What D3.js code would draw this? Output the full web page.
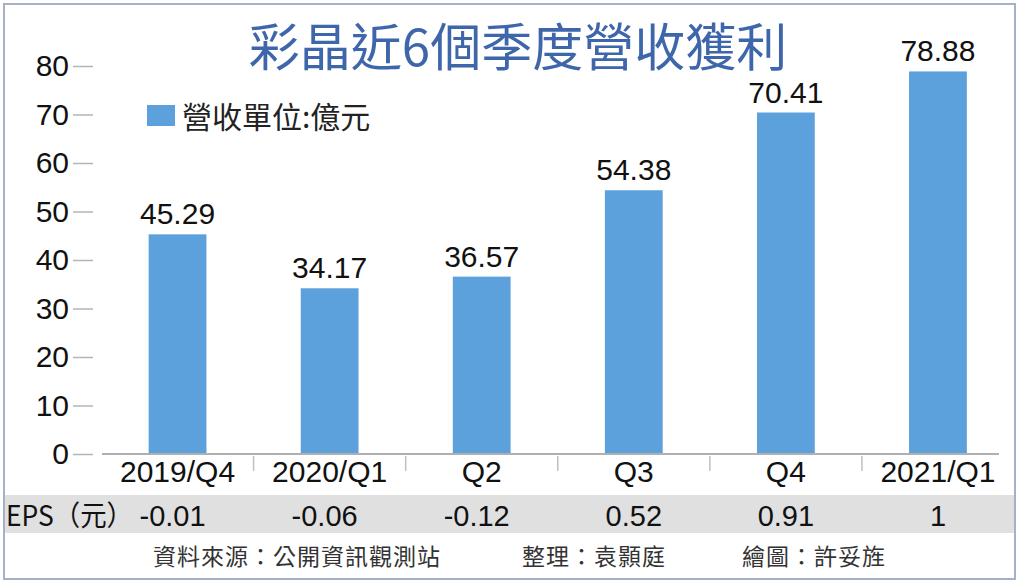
<!DOCTYPE html>
<html>
<head>
<meta charset="utf-8">
<script src="https://cdn.jsdelivr.net/npm/d3@7"></script>
<style>
  body { margin: 0; background: #fff; }
  svg { display: block; }
</style>
</head>
<body>
<div id="chart"></div>
<script>
// data
var quarters = [ '2019/Q4', '2020/Q1', 'Q2', 'Q3', 'Q4', '2021/Q1' ];
var revenue = [ 45.29, 34.17, 36.57, 54.38, 70.41, 78.88 ];
var eps = [ '-0.01', '-0.06', '-0.12', '0.52', '0.91', '1' ];
var yTicks = [ 0, 10, 20, 30, 40, 50, 60, 70, 80 ];

var W = 1024, H = 587;
var numFont = '"Liberation Sans", Arial, sans-serif';
var cjkFont = '"Noto Sans CJK TC", "Noto Sans CJK SC", sans-serif';
var barColor = '#5ca0dc';

var svg = d3.select( '#chart' ).append( 'svg' )
	.attr( 'width', W )
	.attr( 'height', H );

svg.append( 'rect' )
	.attr( 'width', W ).attr( 'height', H )
	.attr( 'fill', '#fff' );

// EPS band
svg.append( 'rect' )
	.attr( 'x', 4 ).attr( 'y', 495 )
	.attr( 'width', 1011 ).attr( 'height', 38 )
	.attr( 'fill', '#e0e0e0' );

// outer frame
svg.append( 'rect' )
	.attr( 'x', 4 ).attr( 'y', 4 )
	.attr( 'width', 1011 ).attr( 'height', 575 )
	.attr( 'fill', 'none' )
	.attr( 'stroke', '#a3b2c8' )
	.attr( 'stroke-width', 2 );

// scales
var xScale = d3.scaleBand()
	.domain( quarters )
	.range( [ 101.5, 1014 ] )
	.paddingInner( 0.62 )
	.paddingOuter( 0.31 );

var yScale = d3.scaleLinear()
	.domain( [ 0, 80 ] )
	.range( [ 454, 66 ] );

var half = ( xScale.step() - xScale.bandwidth() ) / 2;

// y axis
var yAxis = d3.axisLeft( yScale )
	.tickValues( yTicks )
	.tickSize( 20 )
	.tickPadding( 4 );

var yG = svg.append( 'g' )
	.attr( 'transform', 'translate(93,0)' )
	.call( yAxis );
yG.select( '.domain' ).remove();
yG.selectAll( '.tick line' )
	.attr( 'stroke', '#b4b4b4' )
	.attr( 'stroke-width', 1.5 );
yG.selectAll( '.tick text' )
	.attr( 'font-family', numFont )
	.attr( 'font-size', '30px' )
	.attr( 'fill', '#111' );

// bars
svg.selectAll( '.bars' )
	.data( revenue )
	.enter()
	.append( 'rect' )
	.attr( 'class', 'bars' )
	.attr( 'x', function( d, i ) { return xScale( quarters[ i ] ); } )
	.attr( 'y', function( d ) { return yScale( d ); } )
	.attr( 'width', xScale.bandwidth() )
	.attr( 'height', function( d ) { return yScale( 0 ) - yScale( d ); } )
	.attr( 'fill', barColor );

// baseline
svg.append( 'line' )
	.attr( 'x1', 102 ).attr( 'x2', 999 )
	.attr( 'y1', yScale( 0 ) ).attr( 'y2', yScale( 0 ) )
	.attr( 'stroke', '#b0b0b0' )
	.attr( 'stroke-width', 2 );

// category separators
svg.selectAll( '.sep' )
	.data( quarters.slice( 1 ) )
	.enter()
	.append( 'line' )
	.attr( 'class', 'sep' )
	.attr( 'x1', function( d ) { return xScale( d ) - half; } )
	.attr( 'x2', function( d ) { return xScale( d ) - half; } )
	.attr( 'y1', 456 ).attr( 'y2', 471 )
	.attr( 'stroke', '#c0c0c0' )
	.attr( 'stroke-width', 1.5 );

// value labels
svg.selectAll( '.val' )
	.data( revenue )
	.enter()
	.append( 'text' )
	.attr( 'class', 'val' )
	.attr( 'x', function( d, i ) { return xScale( quarters[ i ] ) + xScale.bandwidth() / 2; } )
	.attr( 'y', function( d ) { return yScale( d ) - 10; } )
	.attr( 'text-anchor', 'middle' )
	.attr( 'font-family', numFont )
	.attr( 'font-size', '30px' )
	.attr( 'fill', '#111' )
	.text( function( d ) { return d.toFixed( 2 ); } );

// x labels
svg.selectAll( '.xlab' )
	.data( quarters )
	.enter()
	.append( 'text' )
	.attr( 'class', 'xlab' )
	.attr( 'x', function( d ) { return xScale( d ) + xScale.bandwidth() / 2; } )
	.attr( 'y', 482 )
	.attr( 'text-anchor', 'middle' )
	.attr( 'font-family', numFont )
	.attr( 'font-size', '30px' )
	.attr( 'fill', '#111' )
	.text( function( d ) { return d; } );

// EPS row
svg.append( 'text' )
	.attr( 'x', 6 ).attr( 'y', 526 )
	.attr( 'font-family', cjkFont )
	.attr( 'font-size', '28px' )
	.attr( 'fill', '#111' )
	.attr( 'textLength', 127 )
	.attr( 'lengthAdjust', 'spacingAndGlyphs' )
	.text( 'EPS（元）' );

svg.selectAll( '.eps' )
	.data( eps )
	.enter()
	.append( 'text' )
	.attr( 'class', 'eps' )
	.attr( 'x', function( d, i ) { return xScale( quarters[ i ] ) + xScale.bandwidth() / 2 - ( d.charAt( 0 ) == '-' ? 5 : 0 ); } )
	.attr( 'y', 526 )
	.attr( 'text-anchor', 'middle' )
	.attr( 'font-family', numFont )
	.attr( 'font-size', '29px' )
	.attr( 'fill', '#111' )
	.text( function( d ) { return d; } );

// title
svg.append( 'text' )
	.attr( 'x', 518 ).attr( 'y', 44 )
	.attr( 'text-anchor', 'middle' )
	.attr( 'dominant-baseline', 'central' )
	.attr( 'font-family', cjkFont )
	.attr( 'font-size', '51px' )
	.attr( 'font-weight', 400 )
	.attr( 'fill', '#3e66aa' )
	.text( '彩晶近6個季度營收獲利' );

// legend
svg.append( 'rect' )
	.attr( 'x', 147 ).attr( 'y', 105 )
	.attr( 'width', 28 ).attr( 'height', 21 )
	.attr( 'fill', barColor );

svg.append( 'text' )
	.attr( 'x', 182 ).attr( 'y', 115 )
	.attr( 'dominant-baseline', 'central' )
	.attr( 'font-family', cjkFont )
	.attr( 'font-size', '30px' )
	.attr( 'fill', '#222' )
	.text( '營收單位:億元' );

// footer
var credits = [
	{ x: 153, t: '資料來源：公開資訊觀測站' },
	{ x: 522, t: '整理：袁顥庭' },
	{ x: 742, t: '繪圖：許妥旌' }
];
svg.selectAll( '.credit' )
	.data( credits )
	.enter()
	.append( 'text' )
	.attr( 'class', 'credit' )
	.attr( 'x', function( d ) { return d.x; } )
	.attr( 'y', 555 )
	.attr( 'dominant-baseline', 'central' )
	.attr( 'font-family', cjkFont )
	.attr( 'font-size', '23px' )
	.attr( 'letter-spacing', '1px' )
	.attr( 'fill', '#333' )
	.text( function( d ) { return d.t; } );
</script>
</body>
</html>
